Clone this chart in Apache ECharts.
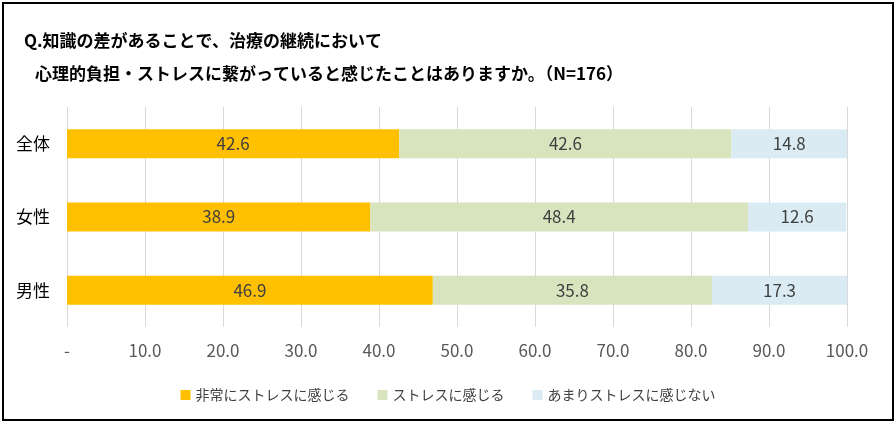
<!DOCTYPE html>
<html lang="ja">
<head>
<meta charset="UTF-8">
<title>ストレス</title>
<script src="https://cdn.jsdelivr.net/npm/echarts@6/dist/echarts.min.js"></script>
<style>
  html, body { margin: 0; padding: 0; background: #fff; }
  #chart { width: 896px; height: 424px; }
</style>
</head>
<body>
<div id="chart"></div>
<script>
// データ
var categories = ['全体', '女性', '男性'];
var seriesNames = ['非常にストレスに感じる', 'ストレスに感じる', 'あまりストレスに感じない'];
var veryStressed = [42.6, 38.9, 46.9];
var stressed = [42.6, 48.4, 35.8];
var notStressed = [14.8, 12.6, 17.3];
var colors = ['#FFC000', '#D7E4BD', '#DAEBF3'];

var FONT = '"Noto Sans CJK JP", "Noto Sans", sans-serif';

function makeSeries(name, data, color) {
    return {
        name: name,
        type: 'bar',
        stack: 'total',
        data: data,
        barWidth: 29,
        itemStyle: { color: color },
        label: {
            show: true,
            position: 'inside',
            color: '#404040',
            fontSize: 17,
            fontFamily: FONT,
            formatter: function (p) { return p.value.toFixed(1); }
        }
    };
}

var option = {
    animation: false,
    backgroundColor: '#fff',
    textStyle: { fontFamily: FONT },
    title: [
        {
            text: 'Q.知識の差があることで、治療の継続において',
            left: 19, top: 27,
            textStyle: { fontSize: 17, fontWeight: 'bold', color: '#000', fontFamily: FONT }
        },
        {
            text: '心理的負担・ストレスに繋がっていると感じたことはありますか。（N=176）',
            left: 30, top: 60,
            textStyle: { fontSize: 17, fontWeight: 'bold', color: '#000', fontFamily: FONT }
        }
    ],
    graphic: [{
        type: 'rect',
        shape: { x: 3, y: 3, width: 890, height: 417 },
        style: { fill: 'none', stroke: '#000', lineWidth: 2 },
        z: 100
    }],
    legend: {
        data: seriesNames,
        left: 'center',
        top: 383,
        itemWidth: 10,
        itemHeight: 10,
        itemGap: 28,
        icon: 'rect',
        textStyle: { fontSize: 14, color: '#404040', fontFamily: FONT }
    },
    grid: { left: 67, right: 49, top: 107, bottom: 97 },
    xAxis: {
        type: 'value',
        min: 0, max: 100, interval: 10,
        axisLine: { show: false },
        axisTick: { show: false },
        splitLine: { lineStyle: { color: '#d9d9d9', width: 1 } },
        axisLabel: {
            margin: 15,
            fontSize: 17,
            color: '#595959',
            fontFamily: FONT,
            formatter: function (v) { return v === 0 ? '-' : v.toFixed(1); }
        }
    },
    yAxis: {
        type: 'category',
        data: categories,
        inverse: true,
        axisLine: { show: false },
        axisTick: { show: false },
        axisLabel: { margin: 17, fontSize: 17, color: '#000', fontFamily: FONT }
    },
    series: [
        makeSeries(seriesNames[0], veryStressed, colors[0]),
        makeSeries(seriesNames[1], stressed, colors[1]),
        makeSeries(seriesNames[2], notStressed, colors[2])
    ]
};

var myChart = echarts.init(document.getElementById('chart'));
myChart.setOption(option);
</script>
</body>
</html>
